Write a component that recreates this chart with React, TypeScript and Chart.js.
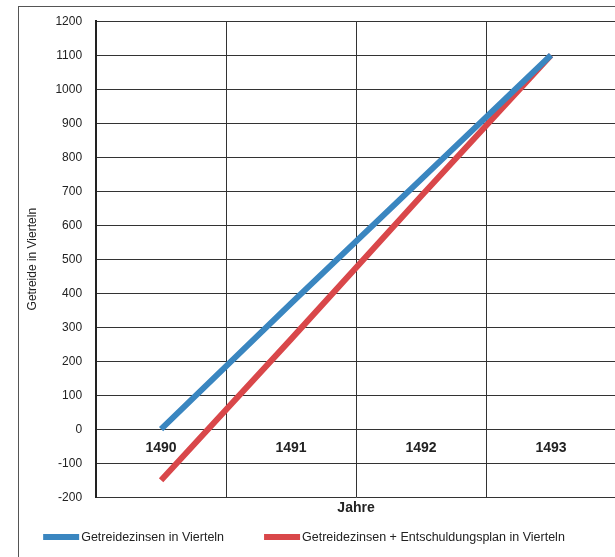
import React, { useEffect, useRef } from "react";
import { Chart, registerables } from "chart.js";

Chart.register(...registerables);

const years = ["1490", "1491", "1492", "1493"];
const zinsen = [0, 370, 735, 1100];
const zinsenPlan = [-150, 265, 685, 1100];
const seriesNames = [
  "Getreidezinsen in Vierteln",
  "Getreidezinsen + Entschuldungsplan in Vierteln",
];
const seriesColors = ["#3a86c0", "#d9474a"];

const FONT = '"Liberation Sans", Arial, sans-serif';

const legendPlugin = {
  id: "customLegend",
  afterDraw(chart: any) {
    const ctx = chart.ctx;
    ctx.save();
    ctx.font = `12.5px ${FONT}`;
    ctx.textBaseline = "middle";
    const boxW = 36;
    const boxH = 6;
    const gap = 2;
    const spacing = 40;
    const items = chart.data.datasets.map((d: any) => ({
      label: d.label,
      color: d.borderColor,
      w: boxW + gap + ctx.measureText(d.label).width,
    }));
    const total =
      items.reduce((s: number, it: any) => s + it.w, 0) +
      spacing * (items.length - 1);
    let x = 304 - total / 2;
    const y = 537;
    for (const it of items) {
      ctx.fillStyle = it.color;
      ctx.fillRect(x, y - boxH / 2, boxW, boxH);
      ctx.fillStyle = "#222";
      ctx.textAlign = "left";
      ctx.fillText(it.label, x + boxW + gap, y + 0.5);
      x += it.w + spacing;
    }
    ctx.restore();
  },
};

export default function App() {
  const ref = useRef<HTMLCanvasElement | null>(null);

  useEffect(() => {
    document.body.style.margin = "0";
    document.body.style.overflow = "hidden";
    if (!ref.current) return;
    const chart = new Chart(ref.current, {
      type: "line",
      data: {
        labels: years,
        datasets: [
          {
            label: seriesNames[0],
            data: zinsen,
            borderColor: seriesColors[0],
            backgroundColor: seriesColors[0],
            borderWidth: 6,
            pointRadius: 0,
            tension: 0,
            borderCapStyle: "butt",
          },
          {
            label: seriesNames[1],
            data: zinsenPlan,
            borderColor: seriesColors[1],
            backgroundColor: seriesColors[1],
            borderWidth: 6,
            pointRadius: 0,
            tension: 0,
            borderCapStyle: "butt",
          },
        ],
      },
      options: {
        animation: false,
        responsive: false,
        maintainAspectRatio: false,
        layout: { padding: { left: 18, right: 2, top: 19, bottom: 40 } },
        plugins: {
          legend: { display: false },
          tooltip: { enabled: false },
        },
        scales: {
          x: {
            type: "category",
            position: { y: 0 } as any,
            offset: true,
            grid: {
              offset: true,
              color: "#333",
              lineWidth: 1,
              drawTicks: false,
            },
            border: { display: false },
            ticks: {
              padding: 11,
              color: "#222",
              font: { family: FONT, size: 14, weight: "bold" },
            },
          },
          x2: {
            type: "category",
            position: "bottom",
            offset: true,
            grid: { display: false, drawTicks: false },
            border: { display: false },
            ticks: { display: false },
            title: {
              display: true,
              text: "Jahre",
              color: "#222",
              font: { family: FONT, size: 14, weight: "bold" },
              padding: { top: 3, bottom: 0 },
            },
          },
          y: {
            min: -200,
            max: 1200,
            ticks: {
              stepSize: 100,
              padding: 14,
              color: "#222",
              font: { family: FONT, size: 12 },
              callback: (v: any) => String(v),
            },
            grid: { color: "#333", lineWidth: 1, drawTicks: false },
            border: { display: true, color: "#222", width: 2 },
            title: {
              display: true,
              text: "Getreide in Vierteln",
              color: "#222",
              font: { family: FONT, size: 12 },
              padding: { top: 7, bottom: 2 },
            },
          },
        },
      },
      plugins: [legendPlugin],
    });
    return () => chart.destroy();
  }, []);

  return (
    <div
      style={{
        position: "fixed",
        left: 0,
        top: 0,
        width: 615,
        height: 557,
        overflow: "hidden",
        background: "#fff",
      }}
    >
      <div
        style={{
          position: "absolute",
          left: 18,
          top: 6,
          width: 700,
          height: 700,
          borderLeft: "1px solid #555",
          borderTop: "1px solid #555",
        }}
      />
      <canvas
        ref={ref}
        width={618}
        height={557}
        style={{ position: "absolute", left: 0, top: 0, width: 618, height: 557 }}
      />
    </div>
  );
}
